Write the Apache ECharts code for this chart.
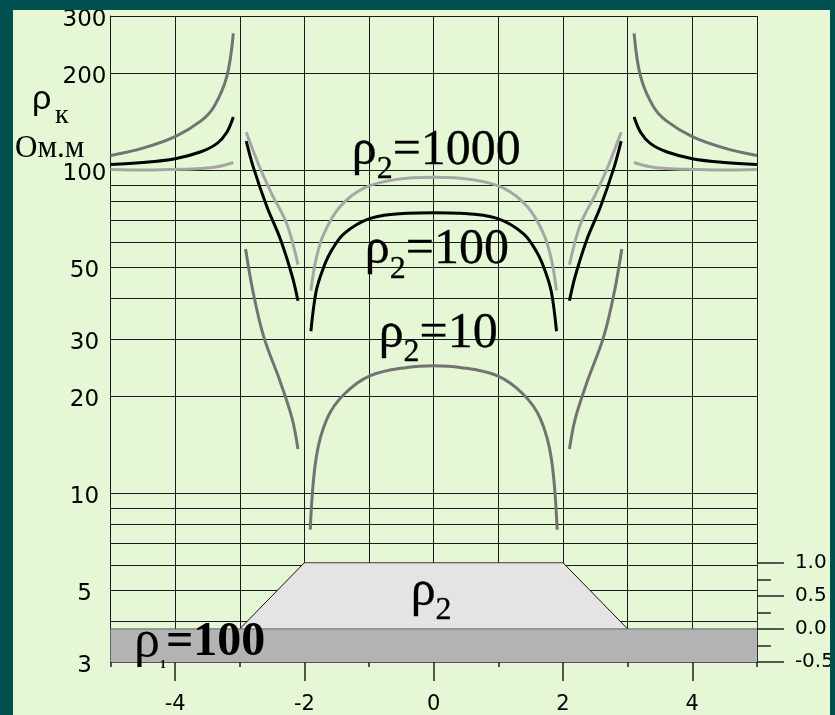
<!DOCTYPE html>
<html>
<head>
<meta charset="utf-8">
<title>ρк</title>
<script src="https://cdn.jsdelivr.net/npm/echarts@6/dist/echarts.min.js"></script>
<style>
  html, body { margin: 0; padding: 0; width: 835px; height: 715px; overflow: hidden; background: #005050; }
  #chart { position: absolute; left: 13px; top: 10px; width: 817px; height: 705px; background: #e5f7d5; }
</style>
</head>
<body>
<div id="chart"></div>
<script>
// Apparent resistivity profiles over a buried trapezoidal body (ρ2) in a host of ρ1 = 100 Ом.м.
// Each curve family is split into the segments between the body's edges.

// ρ2 = 10
const rho10Segments = [
  [[-5, 111], [-4.5, 117], [-4, 127], [-3.6, 142], [-3.4, 157], [-3.2, 195], [-3.1, 265]],
  [[-2.91, 57], [-2.8, 42.5], [-2.63, 30.5], [-2.37, 22], [-2.19, 17], [-2.1, 13.7]],
  [[-1.91, 7.7], [-1.82, 12.8], [-1.65, 17], [-1.39, 20.2], [-0.98, 23.1], [-0.41, 24.5], [0, 24.8],
   [0.41, 24.5], [0.98, 23.1], [1.39, 20.2], [1.65, 17], [1.82, 12.8], [1.91, 7.7]],
  [[2.1, 13.7], [2.19, 17], [2.37, 22], [2.63, 30.5], [2.8, 42.5], [2.91, 57]],
  [[3.1, 265], [3.2, 195], [3.4, 157], [3.6, 142], [4, 127], [4.5, 117], [5, 111]]
];

// ρ2 = 100
const rho100Segments = [
  [[-5, 104], [-4.5, 105.5], [-4, 108.5], [-3.6, 114], [-3.35, 121], [-3.2, 131], [-3.1, 146]],
  [[-2.9, 123], [-2.79, 102], [-2.58, 77], [-2.37, 61], [-2.19, 47], [-2.1, 39.4]],
  [[-1.9, 31.7], [-1.82, 42], [-1.72, 49], [-1.6, 55.5], [-1.39, 63.5], [-0.98, 70.9], [-0.41, 73.5], [0, 73.8],
   [0.41, 73.5], [0.98, 70.9], [1.39, 63.5], [1.6, 55.5], [1.72, 49], [1.82, 42], [1.9, 31.7]],
  [[2.1, 39.4], [2.19, 47], [2.37, 61], [2.58, 77], [2.79, 102], [2.9, 123]],
  [[3.1, 146], [3.2, 131], [3.35, 121], [3.6, 114], [4, 108.5], [4.5, 105.5], [5, 104]]
];

// ρ2 = 1000
const rho1000Segments = [
  [[-5, 100.5], [-4.5, 100], [-4, 100.5], [-3.6, 101.2], [-3.35, 102.4], [-3.1, 105.6]],
  [[-2.9, 131], [-2.7, 103], [-2.5, 84], [-2.27, 68], [-2.1, 51]],
  [[-1.9, 42.4], [-1.82, 53], [-1.7, 63.5], [-1.45, 77], [-1.08, 88], [-0.57, 93.6], [0, 95],
   [0.57, 93.6], [1.08, 88], [1.45, 77], [1.7, 63.5], [1.82, 53], [1.9, 42.4]],
  [[2.1, 51], [2.27, 68], [2.5, 84], [2.7, 103], [2.9, 131]],
  [[3.1, 105.6], [3.35, 102.4], [3.6, 101.2], [4, 100.5], [4.5, 100], [5, 100.5]]
];

// Geoelectric section (depth scale on the right)
const bodyOutline = [[-3, 0], [-2, 1], [2, 1], [3, 0]];
const hostTop = [[-5, 0], [5, 0]];

// Axis ticks and labels
const rhoGridValues = [3, 4, 5, 6, 7, 8, 9, 10, 20, 30, 40, 50, 60, 70, 80, 90, 100, 200, 300];
const rhoLabelValues = [3, 5, 10, 20, 30, 50, 100, 200, 300];
const xLabelValues = [-4, -2, 0, 2, 4];

// Text anchors in data coordinates
const curveLabels = [
  { text: '1000', x: 0.04, y: 114.6 },
  { text: '100', x: 0.05, y: 56.5 },
  { text: '10', x: 0.07, y: 31.1 }
];

const SERIF = '"Liberation Serif", "Times New Roman", serif';
const SANS = '"DejaVu Sans", sans-serif';

const inked = { textBorderColor: '#000', textBorderWidth: 0.3, textShadowBlur: 0, opacity: 1 };

const rhoRich = {
  r: Object.assign({ fontFamily: SERIF, fontSize: 50, color: '#000', lineHeight: 70, verticalAlign: 'middle' }, inked),
  s: Object.assign({ fontFamily: SERIF, fontSize: 32, color: '#000', lineHeight: 70, verticalAlign: 'bottom' }, inked)
};

function curveSeries(segments, color) {
  return segments.map(seg => ({
    type: 'line',
    xAxisIndex: 0,
    yAxisIndex: 0,
    data: seg,
    smooth: 0.35,
    symbol: 'none',
    silent: true,
    lineStyle: { color: color, width: 3 },
    z: 5
  }));
}

// Text placed at a data point, centred on it
function textAt(xIdx, yIdx, points, formatter, rich) {
  return {
    type: 'scatter', xAxisIndex: xIdx, yAxisIndex: yIdx, silent: true, symbolSize: 0, z: 6,
    itemStyle: { opacity: 1 },
    data: points,
    label: Object.assign({
      show: true, position: [0, 0], align: 'center', verticalAlign: 'middle',
      color: '#000', formatter: formatter, rich: rich
    }, inked)
  };
}

const chart = echarts.init(document.getElementById('chart'), null, { renderer: 'canvas' });

const gridLeft = 97.5, gridWidth = 646.4;
const tickStyle = { color: '#222', width: 1.5 };

const option = {
  animation: false,
  backgroundColor: 'transparent',
  title: [
    { text: 'ρ', left: 19, top: 73, padding: 0,
      textStyle: { fontFamily: '"Liberation Sans", Arial, sans-serif', fontSize: 34, fontWeight: 'normal', color: '#000' } },
    { text: 'к', left: 42, top: 92, padding: 0,
      textStyle: { fontFamily: SERIF, fontSize: 28, fontWeight: 'normal', color: '#000' } },
    { text: 'Ом.м', left: 2, top: 123, padding: 0,
      textStyle: { fontFamily: SERIF, fontSize: 31, fontWeight: 'normal', color: '#000' } }
  ],
  grid: [
    { left: gridLeft, top: 6, width: gridWidth, height: 646, outerBoundsMode: 'none', containLabel: false },
    { left: gridLeft, top: 552.7, width: gridWidth, height: 99.3, outerBoundsMode: 'none', containLabel: false }
  ],
  xAxis: [
    {
      gridIndex: 0, type: 'value', min: -5, max: 5, interval: 1, position: 'bottom',
      axisLine: { show: true, onZero: false, lineStyle: { color: '#1a1a1a', width: 1 } },
      axisTick: { show: true, inside: false, length: 5, lineStyle: tickStyle },
      axisLabel: { show: false },
      splitLine: { show: true, lineStyle: { color: '#1a1a1a', width: 1 } }
    },
    {
      gridIndex: 1, type: 'value', min: -5, max: 5, interval: 1, position: 'bottom',
      axisLine: { show: true, onZero: false, lineStyle: { color: '#555', width: 1 } },
      axisTick: { show: true, inside: false, customValues: xLabelValues, length: 19, lineStyle: tickStyle },
      axisLabel: { show: true, customValues: xLabelValues, margin: 32, fontFamily: SANS, fontSize: 21, color: '#000' },
      splitLine: { show: false }
    }
  ],
  yAxis: [
    {
      gridIndex: 0, type: 'log', logBase: 10, min: 3, max: 300, position: 'left',
      axisLine: { show: true, onZero: false, lineStyle: { color: '#1a1a1a', width: 1 } },
      axisTick: { show: false, customValues: rhoGridValues },
      axisLabel: {
        show: true, customValues: rhoLabelValues, align: 'center', margin: 26,
        fontFamily: SANS, fontSize: 23, color: '#000',
        formatter: v => '{v|' + Math.round(v) + '}',
        rich: { v: { fontFamily: SANS, fontSize: 23, color: '#000', padding: [8, 0, 0, 0] } }
      },
      splitLine: { show: true, lineStyle: { color: '#1a1a1a', width: 1 } }
    },
    {
      gridIndex: 1, type: 'value', min: -0.5, max: 1, interval: 0.5, position: 'right',
      axisLine: { show: true, onZero: false, lineStyle: { color: '#333', width: 1 } },
      axisTick: { show: true, inside: false, length: 27, lineStyle: tickStyle },
      minorTick: { show: true, splitNumber: 2, length: 14, lineStyle: tickStyle },
      axisLabel: { show: true, margin: 38, fontFamily: SANS, fontSize: 20, color: '#000',
        formatter: v => v.toFixed(1) },
      splitLine: { show: false }
    }
  ],
  series: [
    ...curveSeries(rho10Segments, '#737373'),
    ...curveSeries(rho100Segments, '#000000'),
    ...curveSeries(rho1000Segments, '#a6a6a6'),
    {
      type: 'line', xAxisIndex: 1, yAxisIndex: 1, data: bodyOutline,
      symbol: 'none', silent: true,
      lineStyle: { color: '#111', width: 1 },
      areaStyle: { color: '#e4e4e4', opacity: 1, origin: 'auto' },
      z: 3
    },
    {
      type: 'line', xAxisIndex: 1, yAxisIndex: 1, data: hostTop,
      symbol: 'none', silent: true,
      lineStyle: { color: '#666', width: 1 },
      areaStyle: { color: '#b3b3b3', opacity: 1, origin: 'start' },
      z: 3
    },
    textAt(0, 0, curveLabels.map(l => ({ value: [l.x, l.y], name: l.text })),
      p => '{r|ρ}{s|2}{r|=' + p.name + '}', rhoRich),
    textAt(1, 1, [{ value: [-0.04, 0.557], name: 'ρ2' }], '{r|ρ}{s|2}', rhoRich),
    textAt(1, 1, [{ value: [-3.62, -0.2], name: 'ρ1' }], '{r|ρ}{s|1}{b|=100}', {
      r: { fontFamily: SERIF, fontSize: 52, color: '#000', lineHeight: 58, verticalAlign: 'middle', textBorderWidth: 0, opacity: 1 },
      s: { fontFamily: SERIF, fontSize: 12, fontWeight: 'bold', color: '#000', lineHeight: 58, verticalAlign: 'bottom', textBorderWidth: 0, opacity: 1 },
      b: { fontFamily: SERIF, fontSize: 48, fontWeight: 'bold', color: '#000', lineHeight: 58, verticalAlign: 'middle', textBorderWidth: 0, opacity: 1 }
    })
  ]
};

chart.setOption(option);
</script>
</body>
</html>
